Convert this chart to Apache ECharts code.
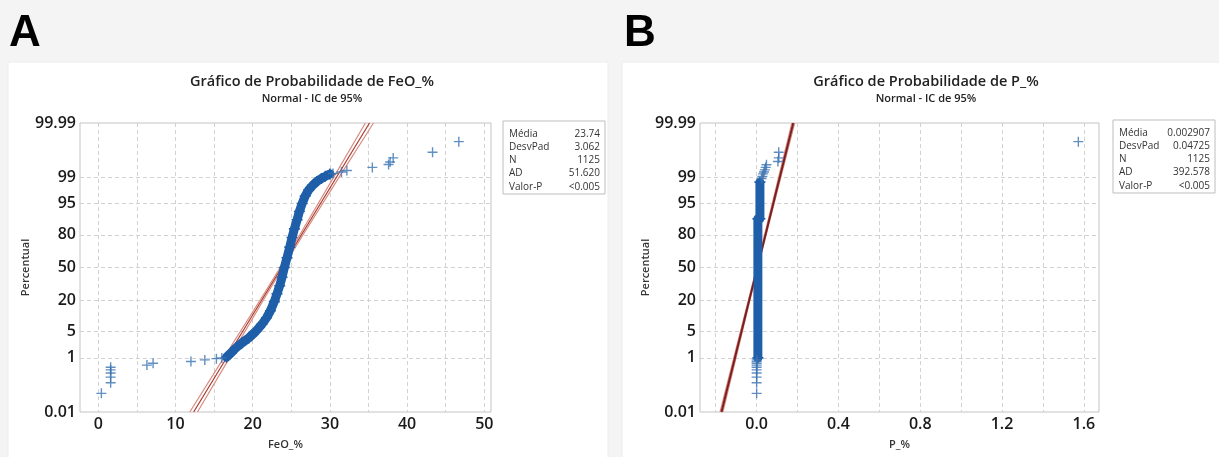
<!DOCTYPE html>
<html><head><meta charset="utf-8">
<script src="https://cdn.jsdelivr.net/npm/echarts@6/dist/echarts.min.js"></script>
<style>html,body{margin:0;padding:0;background:#f4f4f4;}#c{width:1219px;height:457px;}</style>
</head><body><div id="c"></div>
<script>
// ---------- data ----------
const yTickPercents = [0.01, 1, 5, 20, 50, 80, 95, 99, 99.99];
const yTickLabels = ['0.01', '1', '5', '20', '50', '80', '95', '99', '99.99'];
const yGridPercents = [1, 5, 20, 50, 80, 95, 99];

const xTicksA = [0, 10, 20, 30, 40, 50];
const xTickLabelsA = ['0', '10', '20', '30', '40', '50'];
const xGridA = [0, 5, 10, 15, 20, 25, 30, 35, 40, 45, 50];

const xTicksB = [0.0, 0.4, 0.8, 1.2, 1.6];
const xTickLabelsB = ['0.0', '0.4', '0.8', '1.2', '1.6'];
const xGridB = [-0.2, 0.0, 0.2, 0.4, 0.6, 0.8, 1.0, 1.2, 1.4, 1.6];

const statsLabels = ['Média', 'DesvPad', 'N', 'AD', 'Valor-P'];
const statsA = ['23.74', '3.062', '1125', '51.620', '<0.005'];
const statsB = ['0.002907', '0.04725', '1125', '392.578', '<0.005'];

// Panel A (FeO_%): [value, percent]
const denseA = [[16.6,1.05],[17.2,1.4],[17.8,1.9],[18.6,2.6],[19.5,3.5],[20.4,5.0],[21.2,7.2],[21.8,9.8],[22.3,13.3],[22.8,19],[23.15,25],[23.5,32],[23.8,40],[24.1,50],[24.45,60],[24.8,70],[25.1,78],[25.4,84],[25.75,89],[26.05,92.5],[26.4,95],[26.8,96.7],[27.25,97.7],[27.8,98.3],[28.3,98.65],[28.9,98.9],[29.4,99.05],[30.0,99.2]];
const sparseA = [[0.4,0.06],[1.6,0.15],[1.6,0.24],[1.6,0.33],[1.6,0.42],[1.6,0.51],[6.3,0.6],[7.1,0.69],[12.0,0.78],[13.8,0.87],[15.3,0.95],[16.0,1.0],[30.4,99.22],[31.5,99.3],[32.2,99.37],[35.5,99.5],[37.6,99.6],[37.8,99.67],[38.2,99.76],[43.3,99.85],[46.7,99.94]];
const fitA = [[12.35,0.01],[35.13,99.99]];
const ciLowA = [[11.85,0.01],[16.25,1],[20.95,20],[23.56,50],[26.1,80],[30.5,99],[34.6,99.99]];
const ciHighA = [[12.85,0.01],[17.0,1],[21.37,20],[23.92,50],[26.53,80],[31.2,99],[35.65,99.99]];

// Panel B (P_%): [value, percent]
const denseB = [[0.006,1.0],[0.006,89.5],[0.016,89.5],[0.016,98.6]];
const sparseB = [[0.0,0.06],[0.0,0.15],[0.0,0.24],[0.0,0.33],[0.0,0.42],[0.0,0.51],[0.0,0.6],[0.0,0.69],[0.0,0.78],[0.0,0.87],[0.024,98.9],[0.028,99.05],[0.032,99.2],[0.036,99.3],[0.04,99.4],[0.044,99.5],[0.048,99.59],[0.104,99.68],[0.108,99.76],[0.108,99.85],[1.573,99.94]];
const fitB = [[-0.172,0.01],[0.179,99.99]];
const ciLowB = [[-0.179,0.01],[0.0001,50],[0.172,99.99]];
const ciHighB = [[-0.165,0.01],[0.0057,50],[0.186,99.99]];

// ---------- normal probability scale ----------
function probit(p){
  const a=[-3.969683028665376e+01,2.209460984245205e+02,-2.759285104469687e+02,1.383577518672690e+02,-3.066479806614716e+01,2.506628277459239e+00];
  const b=[-5.447609879822406e+01,1.615858368580409e+02,-1.556989798598866e+02,6.680131188771972e+01,-1.328068155288572e+01];
  const c=[-7.784894002430293e-03,-3.223964580411365e-01,-2.400758277161838e+00,-2.549732539343734e+00,4.374664141464968e+00,2.938163982698783e+00];
  const d=[7.784695709041462e-03,3.224671290700398e-01,2.445134137142996e+00,3.754408661907416e+00];
  const pl=0.02425, ph=1-pl; let q,r;
  if(p<pl){q=Math.sqrt(-2*Math.log(p));return (((((c[0]*q+c[1])*q+c[2])*q+c[3])*q+c[4])*q+c[5])/((((d[0]*q+d[1])*q+d[2])*q+d[3])*q+1);}
  if(p<=ph){q=p-0.5;r=q*q;return (((((a[0]*r+a[1])*r+a[2])*r+a[3])*r+a[4])*r+a[5])*q/(((((b[0]*r+b[1])*r+b[2])*r+b[3])*r+b[4])*r+1);}
  q=Math.sqrt(-2*Math.log(1-p));return -(((((c[0]*q+c[1])*q+c[2])*q+c[3])*q+c[4])*q+c[5])/((((d[0]*q+d[1])*q+d[2])*q+d[3])*q+1);
}
const Z = pct => probit(pct / 100);
const toXY = arr => arr.map(([x, p]) => [x, Z(p)]);
const yTickZ = yTickPercents.map(Z);
const yGridZ = yGridPercents.map(Z);
const yMin = Z(yTickPercents[0]), yMax = Z(yTickPercents[yTickPercents.length - 1]);

function nearestLabel(v, vals, labels){
  let bi = 0, bd = Infinity;
  vals.forEach((t, i) => { const d = Math.abs(t - v); if (d < bd) { bd = d; bi = i; } });
  return labels[bi];
}

const PLUS = 'path://M4.3,0 H5.7 V4.3 H10 V5.7 H5.7 V10 H4.3 V5.7 H0 V4.3 H4.3 Z';
const tickFont = {fontFamily:'Open Sans', fontWeight:600, fontSize:16, color:'#1a1a1a'};
const nameFont = {fontFamily:'Open Sans', fontWeight:600, fontSize:11, color:'#333'};
const gridLine = {show:true, lineStyle:{color:'#d2d2d2', type:[4,3], width:1}};

function xAxis(idx, min, max, grid, ticks, labels, name){
  return {gridIndex:idx, type:'value', min:min, max:max,
    axisLine:{show:false}, axisTick:{show:false, customValues:grid},
    axisLabel:Object.assign({customValues:ticks, margin:4, formatter:v=>nearestLabel(v, ticks, labels)}, tickFont),
    splitLine:gridLine, name:name, nameLocation:'middle', nameGap:27, nameTextStyle:nameFont};
}
function yAxis(idx){
  return {gridIndex:idx, type:'value', min:yMin, max:yMax,
    axisLine:{show:false}, axisTick:{show:false, customValues:yGridZ},
    axisLabel:Object.assign({customValues:yTickZ, margin:4, formatter:v=>nearestLabel(v, yTickZ, yTickLabels)}, tickFont),
    splitLine:gridLine, name:'Percentual', nameLocation:'middle', nameGap:42, nameRotate:90, nameTextStyle:nameFont};
}
function lineS(idx, data, color, width, z){
  return {type:'line', xAxisIndex:idx, yAxisIndex:idx, data:toXY(data), symbol:'none', silent:true,
    lineStyle:{color:color, width:width}, z:z, animation:false};
}
function panelSeries(idx, dense, sparse, fit, lo, hi, fitColor, fitWidth){
  return [
    lineS(idx, lo, '#d98c82', 1.2, 3),
    lineS(idx, hi, '#d98c82', 1.2, 3),
    lineS(idx, fit, fitColor, fitWidth, 3),
    {type:'line', xAxisIndex:idx, yAxisIndex:idx, data:toXY(dense), symbol:PLUS, symbolSize:11, showSymbol:true,
      itemStyle:{color:'#1f5ea8'}, lineStyle:{color:'#1f5ea8', width:9, cap:'round', join:'round'}, z:4, silent:true, animation:false},
    {type:'scatter', xAxisIndex:idx, yAxisIndex:idx, data:toXY(sparse), symbol:PLUS, symbolSize:10,
      itemStyle:{color:'#3b73b3'}, z:5, silent:true, animation:false}
  ];
}
function statsBox(x, y, w, h, values){
  const els = [{type:'rect', shape:{x:x, y:y, width:w, height:h}, style:{fill:'#fff', stroke:'#bdbdbd', lineWidth:1}, z:10}];
  statsLabels.forEach((l, i) => {
    const ty = y + 13 + i * 13.2;
    els.push({type:'text', x:x + 6, y:ty, style:{text:l, font:'10px "Open Sans"', fill:'#333', textVerticalAlign:'middle', textAlign:'left'}, z:11});
    els.push({type:'text', x:x + w - 5, y:ty, style:{text:values[i], font:'10px "Open Sans"', fill:'#333', textVerticalAlign:'middle', textAlign:'right'}, z:11});
  });
  return els;
}

const chart = echarts.init(document.getElementById('c'), null, {renderer:'canvas'});
chart.setOption({
  backgroundColor:'#f4f4f4',
  animation:false,
  grid:[
    {left:80, top:123, width:411, height:289, show:true, backgroundColor:'#fff', borderColor:'#c4c4c4', borderWidth:1},
    {left:700, top:123, width:399, height:289, show:true, backgroundColor:'#fff', borderColor:'#c4c4c4', borderWidth:1}
  ],
  xAxis:[
    xAxis(0, -2.37, 50.87, xGridA, xTicksA, xTickLabelsA, 'FeO_%'),
    xAxis(1, -0.277, 1.674, xGridB, xTicksB, xTickLabelsB, 'P_%')
  ],
  yAxis:[yAxis(0), yAxis(1)],
  series:[].concat(
    panelSeries(0, denseA, sparseA, fitA, ciLowA, ciHighA, '#a83a30', 1.2),
    panelSeries(1, denseB, sparseB, fitB, ciLowB, ciHighB, '#7a1f1f', 2)
  ),
  graphic:[].concat(
    [
      {type:'rect', shape:{x:8, y:62, width:600, height:400}, style:{fill:'#fff', stroke:'#ececec'}, z:-5},
      {type:'rect', shape:{x:622, y:62, width:600, height:400}, style:{fill:'#fff', stroke:'#ececec'}, z:-5},
      {type:'text', x:9, y:34, style:{text:'A', font:'bold 44px "Liberation Sans"', fill:'#000', textVerticalAlign:'middle'}, z:10},
      {type:'text', x:624, y:34, style:{text:'B', font:'bold 44px "Liberation Sans"', fill:'#000', textVerticalAlign:'middle'}, z:10},
      {type:'text', x:312, y:82, style:{text:'Gráfico de Probabilidade de FeO_%', font:'600 14.5px "Open Sans"', fill:'#222', textAlign:'center', textVerticalAlign:'middle'}, z:10},
      {type:'text', x:312, y:99, style:{text:'Normal - IC de 95%', font:'600 11px "Open Sans"', fill:'#222', textAlign:'center', textVerticalAlign:'middle'}, z:10},
      {type:'text', x:926, y:82, style:{text:'Gráfico de Probabilidade de P_%', font:'600 14.5px "Open Sans"', fill:'#222', textAlign:'center', textVerticalAlign:'middle'}, z:10},
      {type:'text', x:926, y:99, style:{text:'Normal - IC de 95%', font:'600 11px "Open Sans"', fill:'#222', textAlign:'center', textVerticalAlign:'middle'}, z:10}
    ],
    statsBox(503, 121, 102, 73, statsA),
    statsBox(1113, 120, 102, 73, statsB)
  )
});
</script>
</body></html>
